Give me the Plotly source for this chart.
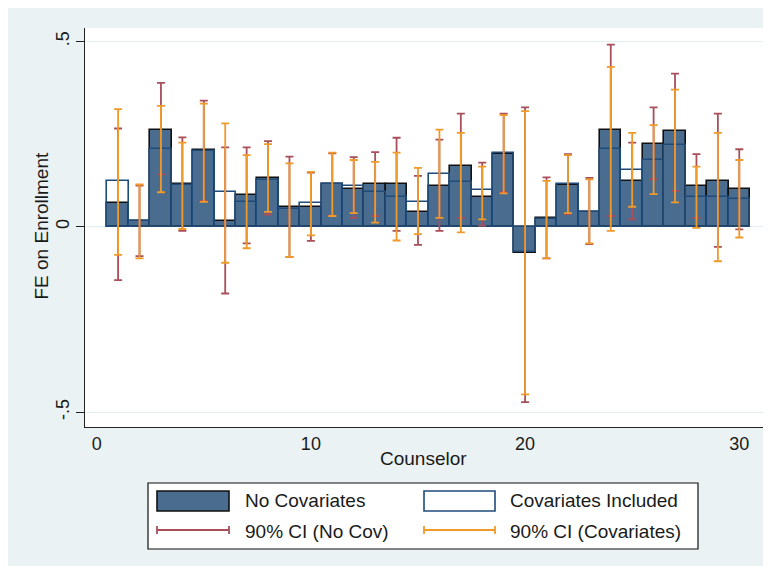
import plotly.graph_objects as go

counselor = list(range(1, 31))

fe_nocov = [0.064, 0.016, 0.262, 0.115, 0.207, 0.015, 0.085, 0.132, 0.054, 0.054,
            0.114, 0.101, 0.115, 0.115, 0.040, 0.111, 0.164, 0.081, 0.196, -0.070,
            0.024, 0.113, 0.039, 0.262, 0.123, 0.223, 0.259, 0.111, 0.123, 0.101]
fe_cov = [0.123, 0.015, 0.211, 0.113, 0.205, 0.093, 0.067, 0.126, 0.048, 0.063,
          0.116, 0.111, 0.093, 0.081, 0.067, 0.141, 0.120, 0.099, 0.198, -0.068,
          0.021, 0.115, 0.041, 0.211, 0.153, 0.180, 0.220, 0.081, 0.081, 0.076]

ci_nocov_lo = [-0.144, -0.079, 0.141, -0.011, 0.070, -0.180, -0.045, 0.033, -0.081, -0.038,
               0.030, 0.024, 0.029, -0.011, -0.049, -0.011, 0.024, 0.003, 0.093, -0.473,
               -0.085, 0.034, -0.047, 0.029, 0.020, 0.128, 0.097, 0.024, -0.054, -0.007]
ci_nocov_hi = [0.265, 0.111, 0.388, 0.241, 0.340, 0.214, 0.214, 0.231, 0.189, 0.146,
               0.198, 0.188, 0.201, 0.240, 0.137, 0.235, 0.305, 0.173, 0.305, 0.322,
               0.133, 0.196, 0.132, 0.491, 0.227, 0.322, 0.413, 0.196, 0.305, 0.209]
ci_cov_lo = [-0.076, -0.085, 0.093, -0.006, 0.067, -0.097, -0.058, 0.040, -0.081, -0.023,
             0.029, 0.037, 0.011, -0.037, -0.020, 0.024, -0.015, 0.020, 0.090, -0.452,
             -0.085, 0.037, -0.045, -0.011, 0.054, 0.088, 0.066, -0.003, -0.093, -0.029]
ci_cov_hi = [0.317, 0.114, 0.326, 0.227, 0.332, 0.279, 0.193, 0.223, 0.171, 0.148,
             0.200, 0.180, 0.175, 0.200, 0.159, 0.262, 0.253, 0.162, 0.301, 0.312,
             0.124, 0.193, 0.128, 0.431, 0.253, 0.274, 0.370, 0.162, 0.253, 0.180]

ytick_vals = [-0.5, 0, 0.5]
ytick_text = ["-.5", "0", ".5"]
xtick_vals = [0, 10, 20, 30]

BAR_FILL = "#4a6c8f"
BAR_EDGE = "#111111"
COV_EDGE = "#1f4b7a"
RED = "#a84f5b"
ORANGE = "#f09a2a"
BG = "#eaf2f3"
TXT = "#1a1a1a"
FONT = "Liberation Sans, Arial, sans-serif"

W, H = 771, 566
OFF = 8  # page body margin
L, R, T, B = 85 - OFF, 763 - OFF, 28 - OFF, 427 - OFF


def px(x):
    return (x - OFF - L) / (R - L)


def py(y):
    return (B - (y - OFF)) / (B - T)


fig = go.Figure()
fig.add_trace(go.Bar(x=counselor, y=fe_nocov, width=1, name="No Covariates",
                     marker=dict(color=BAR_FILL, line=dict(color=BAR_EDGE, width=1.6)),
                     showlegend=False))
fig.add_trace(go.Bar(x=counselor, y=fe_cov, width=1, name="Covariates Included",
                     marker=dict(color="rgba(0,0,0,0)", line=dict(color=COV_EDGE, width=1.6)),
                     showlegend=False))

fig.add_trace(go.Scatter(
    x=counselor, y=fe_nocov, mode="markers", name="90% CI (No Cov)",
    marker=dict(color="rgba(0,0,0,0)", size=1),
    error_y=dict(type="data", symmetric=False,
                 array=[h - v for h, v in zip(ci_nocov_hi, fe_nocov)],
                 arrayminus=[v - l for l, v in zip(ci_nocov_lo, fe_nocov)],
                 color=RED, thickness=1.8, width=4),
    showlegend=False, hoverinfo="skip"))
fig.add_trace(go.Scatter(
    x=counselor, y=fe_cov, mode="markers", name="90% CI (Covariates)",
    marker=dict(color="rgba(0,0,0,0)", size=1),
    error_y=dict(type="data", symmetric=False,
                 array=[h - v for h, v in zip(ci_cov_hi, fe_cov)],
                 arrayminus=[v - l for l, v in zip(ci_cov_lo, fe_cov)],
                 color=ORANGE, thickness=1.8, width=4),
    showlegend=False, hoverinfo="skip"))

shapes = []
annotations = []

# legend box
shapes.append(dict(type="rect", xref="paper", yref="paper", x0=px(148), x1=px(698), y0=py(549), y1=py(483),
                   fillcolor="white", line=dict(color="#111", width=1.2), layer="above"))
shapes.append(dict(type="rect", xref="paper", yref="paper", x0=px(157), x1=px(229), y0=py(511), y1=py(491),
                   fillcolor=BAR_FILL, line=dict(color=BAR_EDGE, width=1.6), layer="above"))
shapes.append(dict(type="rect", xref="paper", yref="paper", x0=px(424), x1=px(495), y0=py(511), y1=py(491),
                   fillcolor="white", line=dict(color=COV_EDGE, width=1.6), layer="above"))
for (x0, x1, c) in [(157, 229, RED), (424, 495, ORANGE)]:
    shapes.append(dict(type="line", xref="paper", yref="paper", x0=px(x0), x1=px(x1), y0=py(530), y1=py(530),
                       line=dict(color=c, width=1.8), layer="above"))
    for xc in (x0, x1):
        shapes.append(dict(type="line", xref="paper", yref="paper", x0=px(xc), x1=px(xc), y0=py(526), y1=py(534),
                           line=dict(color=c, width=1.8), layer="above"))

for (x, y, t) in [(243, 501, "No Covariates"), (508, 501, "Covariates Included"),
                  (243, 531, "90% CI (No Cov)"), (508, 531, "90% CI (Covariates)")]:
    annotations.append(dict(xref="paper", yref="paper", x=px(x), y=py(y), text=t, showarrow=False,
                            xanchor="left", yanchor="middle", font=dict(family=FONT, size=19, color=TXT)))

annotations.append(dict(xref="paper", yref="paper", x=px(423.5), y=py(458.5), text="Counselor",
                        showarrow=False, xanchor="center", yanchor="middle",
                        font=dict(family=FONT, size=19, color=TXT)))
annotations.append(dict(xref="paper", yref="paper", x=px(40.5), y=py(226), text="FE on Enrollment",
                        showarrow=False, xanchor="center", yanchor="middle", textangle=-90,
                        font=dict(family=FONT, size=19, color=TXT)))

fig.update_layout(
    width=W, height=H,
    margin=dict(l=L, r=W - R, t=T, b=H - B, pad=0),
    paper_bgcolor=BG, plot_bgcolor="white",
    barmode="overlay", bargap=0,
    shapes=shapes, annotations=annotations,
    font=dict(family=FONT, size=18, color=TXT),
    xaxis=dict(range=[-0.546, 31.107], tickvals=xtick_vals, ticks="", showgrid=False,
               zeroline=False, showline=True, linecolor="#222", linewidth=1.3,
               tickfont=dict(family=FONT, size=18, color=TXT)),
    yaxis=dict(range=[-0.540, 0.536], tickvals=ytick_vals, ticktext=ytick_text, tickangle=-90,
               ticks="outside", ticklen=8, tickwidth=1.3, tickcolor="#222",
               showgrid=True, gridcolor="#e4edef", gridwidth=1,
               zeroline=True, zerolinecolor="#e4edef", zerolinewidth=1,
               showline=True, linecolor="#222", linewidth=1.3,
               tickfont=dict(family=FONT, size=18, color=TXT)),
)

fig.write_html("out.html")
